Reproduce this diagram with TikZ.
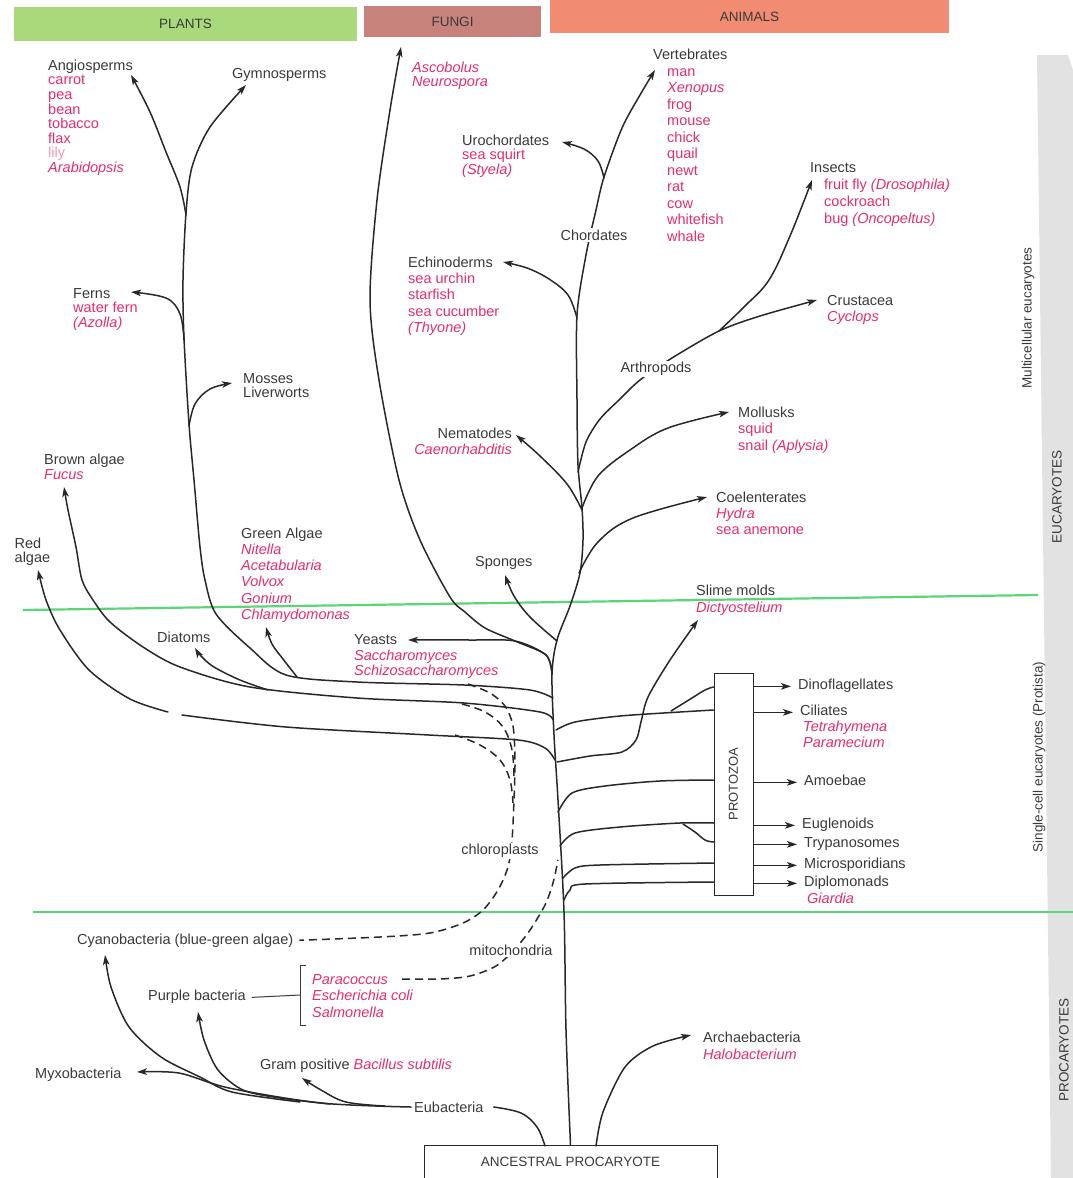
\documentclass[tikz,border=0pt]{standalone}
\usepackage{fontspec}
\setmainfont{Liberation Sans}
\usetikzlibrary{arrows.meta}

\definecolor{inkc}{RGB}{40,40,40}
\definecolor{labc}{RGB}{58,58,58}
\definecolor{pinkc}{RGB}{228,45,112}
\definecolor{pinkl}{RGB}{240,150,182}
\definecolor{plantc}{RGB}{170,217,124}
\definecolor{fungic}{RGB}{200,130,124}
\definecolor{animalc}{RGB}{241,140,114}
\definecolor{sidec}{RGB}{226,226,226}
\definecolor{zonec}{RGB}{92,213,120}

\newcommand\pk[1]{\textcolor{pinkc}{#1}}
\newcommand\pki[1]{\textcolor{pinkc}{\itshape #1}}
\newcommand\fst{\rule{0pt}{10.5pt}}

\tikzset{
  ink/.style={draw=inkc, line width=1.5pt, line cap=round, line join=round},
  tip/.style={ink, -{Stealth[length=10pt,width=6.5pt,inset=2.5pt]}},
  transfer/.style={draw=inkc, line width=1.5pt, dash pattern=on 8pt off 5pt},
  zone/.style={draw=zonec, line width=2.2pt},
  lab/.style={font=\fontsize{14.5}{16}\selectfont, text=labc, inner sep=0pt, align=left},
  lsk/.style={font=\fontsize{14.5}{#1}\selectfont},
  one/.style={lab, anchor=base west},
  multi/.style={lab, anchor=north west},
  gapl/.style={lab, fill=white, inner sep=1.5pt, anchor=center},
  band/.style={inner sep=0pt, font=\fontsize{13.5}{14}\selectfont, text=labc},
  side/.style={font=\fontsize{13.5}{14}\selectfont, text=labc, rotate=90, inner sep=0pt},
}

\begin{document}
\begin{tikzpicture}[x=1pt,y=-1pt]
\useasboundingbox (0,0) rectangle (1073,1178);
\fill[white] (0,0) rectangle (1073,1178);

% ---------- kingdom bands ----------
\node[band, fill=plantc, minimum width=343, minimum height=34] (plants) at (185.5,24) {PLANTS};
\node[band, fill=fungic, minimum width=177, minimum height=31] (fungi) at (452.5,21.5) {FUNGI};
\node[band, fill=animalc, minimum width=399, minimum height=33] (animals) at (749.5,16.5) {ANIMALS};

% ---------- side scale ----------
\fill[sidec] (1037,55) -- (1068,55) -- (1073,70) -- (1073,1178) -- (1051,1178) -- cycle;
\node[side] (multicell) at (1028,318) {Multicellular eucaryotes};
\node[side] (eucar) at (1057,497) {EUCARYOTES};
\node[side] (single) at (1039,757) {Single-cell eucaryotes (Protista)};
\node[side] (procar) at (1064,1050) {PROCARYOTES};

% ---------- zone boundaries ----------
\draw[zone] (23,610) -- (1038,595);
\draw[zone] (33,912) -- (1073,912);

% ---------- root ----------
\node[draw=inkc, line width=1pt, fill=white, minimum width=293, minimum height=33, inner sep=0pt,
      font=\fontsize{13.5}{14}\selectfont, text=labc] (anc) at (570.5,1162) {ANCESTRAL PROCARYOTE};

% ---------- labels: plants ----------
\node[multi, lsk=14.6] (angio) at (48,59.5) {\fst Angiosperms\\\pk{carrot}\\\pk{pea}\\\pk{bean}\\\pk{tobacco}\\\pk{flax}\\\textcolor{pinkl}{lily}\\\pki{Arabidopsis}};
\node[one] (gymno) at (232,78) {Gymnosperms};
\node[multi, lsk=14.6] (ferns) at (73,287.5) {\fst Ferns\\\pk{water fern}\\\pki{(Azolla)}};
\node[multi, lsk=14.2] (mosses) at (243,372.5) {\fst Mosses\\Liverworts};
\node[multi, lsk=15] (brown) at (44,453.5) {\fst Brown algae\\\pki{Fucus}};
\node[multi, lsk=14.5] (red) at (14.5,537.5) {\fst Red\\algae};
\node[multi, lsk=16.2] (green) at (241,527.5) {\fst Green Algae\\\pki{Nitella}\\\pki{Acetabularia}\\\pki{Volvox}\\\pki{Gonium}\\\pki{Chlamydomonas}};
\node[one] (diatoms) at (157,642) {Diatoms};

% ---------- labels: fungi ----------
\node[multi, lsk=14.5] (ascob) at (412,61.5) {\fst\pki{Ascobolus}\\\pki{Neurospora}};
\node[multi, lsk=15.8] (yeasts) at (354,633.5) {\fst Yeasts\\\pki{Saccharomyces}\\\pki{Schizosaccharomyces}};

% ---------- labels: animals ----------
\node[one] (vert) at (653,59) {Vertebrates};
\node[multi, lsk=16.5] (vertsp) at (667,65.5) {\fst\pk{man}\\\pki{Xenopus}\\\pk{frog}\\\pk{mouse}\\\pk{chick}\\\pk{quail}\\\pk{newt}\\\pk{rat}\\\pk{cow}\\\pk{whitefish}\\\pk{whale}};
\node[multi, lsk=14.5] (uro) at (462,134.5) {\fst Urochordates\\\pk{sea squirt}\\\pki{(Styela)}};
\node[one] (insects) at (810,172) {Insects};
\node[multi, lsk=17] (insectsp) at (824,178.5) {\fst\pk{fruit fly \textit{(Drosophila)}}\\\pk{cockroach}\\\pk{bug \textit{(Oncopeltus)}}};
\node[multi, lsk=16.3] (echi) at (408,256.5) {\fst Echinoderms\\\pk{sea urchin}\\\pk{starfish}\\\pk{sea cucumber}\\\pki{(Thyone)}};
\node[multi, lsk=16.5] (crus) at (827,294.5) {\fst Crustacea\\\pki{Cyclops}};
\node[multi, lsk=16.5] (moll) at (738,406.5) {\fst Mollusks\\\pk{squid}\\\pk{snail \textit{(Aplysia)}}};
\node[lab, anchor=north east, align=right, lsk=16.5] (nema) at (512,427.5) {\fst Nematodes\\\pki{Caenorhabditis}};
\node[multi, lsk=16] (coel) at (716,491.5) {\fst Coelenterates\\\pki{Hydra}\\\pk{sea anemone}};
\node[one] (sponges) at (475,566) {Sponges};

% ---------- labels: protista ----------
\node[multi, lsk=17.5] (slime) at (696,584.5) {\fst Slime molds\\\pki{Dictyostelium}};
\node[one] (dino) at (798,689) {Dinoflagellates};
\node[one] (cili) at (800,715) {Ciliates};
\node[multi, lsk=16] (cilisp) at (803,720.5) {\fst\pki{Tetrahymena}\\\pki{Paramecium}};
\node[one] (amoeb) at (804,785) {Amoebae};
\node[one] (eugl) at (802,828) {Euglenoids};
\node[one] (tryp) at (804,847) {Trypanosomes};
\node[one] (micro) at (804,868) {Microsporidians};
\node[one] (diplo) at (804,886) {Diplomonads};
\node[one] (giardia) at (807,903) {\pki{Giardia}};

% ---------- labels: procaryotes ----------
\node[one] (cyano) at (77,944) {Cyanobacteria (blue-green algae)};
\node[one] (purple) at (148,1000) {Purple bacteria};
\node[multi, lsk=16.5] (para) at (312,973.5) {\fst\pki{Paracoccus}\\\pki{Escherichia coli}\\\pki{Salmonella}};
\node[one] (gram) at (260,1069) {Gram positive \pki{Bacillus subtilis}};
\node[one] (myxo) at (35,1078) {Myxobacteria};
\node[one] (eubac) at (414,1112) {Eubacteria};
\node[multi, lsk=17] (arch) at (703,1031.5) {\fst Archaebacteria\\\pki{Halobacterium}};

% ---------- main trunk up to the vertebrates ----------
\draw[tip] plot[smooth, tension=.5] coordinates {(anc.north) (566,1030) (564,912) (558,800) (554,735) (552,674) (557,640) (570,606) (580,573) (583,540) (582,508) (578,465) (577,400) (577,315) (586,255) (596,210) (604,177) (622,128) (640,95) (655,70)};

% ---------- animal branches ----------
\draw[tip] plot[smooth, tension=.6] coordinates {(604,178) (598,161) (584,149) (562,142)};
\draw[tip] plot[smooth, tension=.6] coordinates {(577,318) (568,295) (549,279) (527,268) (503,262)};
\draw[tip] plot[smooth, tension=.5] coordinates {(578,472) (586,442) (600,419) (620,399) (640,380) (672,358) (719,331) (760,316) (817,300)};
\draw[tip] plot[smooth, tension=.6] coordinates {(719,331) (745,306) (769,280) (790,236) (812,180)};
\draw[tip] plot[smooth, tension=.6] coordinates {(582,508) (598,476) (630,450) (668,428) (729,412)};
\draw[tip] plot[smooth, tension=.6] coordinates {(582,510) (567,484) (540,456) (516,435)};
\draw[tip] plot[smooth, tension=.6] coordinates {(579,573) (598,542) (633,518) (707,497)};
\draw[tip] plot[smooth, tension=.6] coordinates {(557,641) (530,617) (514,596) (505,575)};

% ---------- fungi ----------
\draw[tip] plot[smooth, tension=.5] coordinates {(552,674) (546,655) (515,641) (485,628) (465,612) (450,597) (420,540) (399,480) (379,380) (370,300) (377,200) (390,110) (401,47)};
\draw[tip] plot[smooth, tension=.5] coordinates {(552,674) (546,655) (515,641) (470,640) (408,640)};

% ---------- plants ----------
\draw[tip] plot[smooth, tension=.5] coordinates {(553,698) (530,690) (464,685) (357,682) (286,675) (250,648) (216,614) (205,580) (200,547) (194,480) (189,424) (184,338) (183,280) (186,213) (192,167) (210,127) (246,85)};
\draw[tip] plot[smooth, tension=.6] coordinates {(186,215) (180,187) (166,152) (150,112) (131,75)};
\draw[tip] plot[smooth, tension=.6] coordinates {(184,340) (180,314) (166,298) (131,292)};
\draw[tip] plot[smooth, tension=.6] coordinates {(189,426) (195,404) (210,389) (232,383)};
\draw[tip] plot[smooth, tension=.6] coordinates {(297,677) (283,659) (272,644) (266,627)};
\draw[tip] plot[smooth, tension=.5] coordinates {(553,720) (540,712) (464,703) (357,698) (250,687) (180,667) (143,647) (110,622) (93,600) (82,580) (76,547) (68,510) (64,487)};
\draw[tip] plot[smooth, tension=.6] coordinates {(268,690) (240,680) (214,667) (201,656) (195,648)};
\draw[ink] plot[smooth, tension=.5] coordinates {(555,760) (545,748) (518,740) (429,735) (286,727) (182,715)};
\draw[tip] plot[smooth, tension=.5] coordinates {(168,712) (130,699) (89,670) (60,630) (46,600) (38,570)};

% ---------- protozoa ----------
\node[draw=inkc, line width=1pt, fill=white, minimum width=39, minimum height=222, inner sep=0pt] (pz) at (733.5,784) {};
\node[side, font=\fontsize{13}{14}\selectfont] (pzt) at (pz.center) {PROTOZOA};
\draw[ink] plot[smooth, tension=.5] coordinates {(556,730) (575,722) (620,716) (680,712) (pz.west |- 0,710)};
\draw[ink] plot[smooth, tension=.6] coordinates {(671,711) (692,698) (705,690) (pz.west |- 0,687)};
\draw[tip] plot[smooth, tension=.5] coordinates {(557,762) (590,756) (622,752) (636,740) (641,722) (648,697) (670,660) (698,620)};
\draw[ink] plot[smooth, tension=.5] coordinates {(558,812) (572,793) (605,786) (660,781) (pz.west |- 0,780)};
\draw[ink] plot[smooth, tension=.5] coordinates {(560,846) (575,833) (620,827) (680,823) (pz.west |- 0,823)};
\draw[ink] plot[smooth, tension=.6] coordinates {(683,824) (695,832) (705,840) (pz.west |- 0,842)};
\draw[ink] plot[smooth, tension=.5] coordinates {(563,878) (575,868) (600,865) (pz.west |- 0,863)};
\draw[ink] plot[smooth, tension=.5] coordinates {(564,900) (570,890) (585,884) (pz.west |- 0,882)};
\foreach \n in {dino,cili,amoeb,eugl,tryp,micro,diplo}
  \draw[tip] (pz.east |- \n.mid west) -- ([xshift=-7pt]\n.mid west);

% ---------- endosymbiosis (dashed) ----------
\draw[transfer] plot[smooth, tension=.5] coordinates {(468,684) (490,693) (505,706) (513,726) (515,760) (514,800) (512,840) (508,867) (498,890) (483,910) (463,923) (430,933) (380,937) ([xshift=6pt]cyano.east)};
\draw[transfer] plot[smooth, tension=.6] coordinates {(462,704) (485,712) (503,727) (512,750) (514,778)};
\draw[transfer] plot[smooth, tension=.6] coordinates {(455,735) (480,745) (500,760) (510,780) (513,803)};
\coordinate (mitoS) at (402,979);
\draw[transfer] plot[smooth, tension=.5] coordinates {(mitoS) (440,979) (470,976) (496,966) (515,949) (530,930) (545,905) (553,883) (558,860)};

% ---------- procaryote branches ----------
\draw[ink] plot[smooth, tension=.6] coordinates {(545,1146) (537,1127) (521,1113) ([xshift=10pt]eubac.east |- 0,1107)};
\draw[tip] plot[smooth, tension=.5] coordinates {([xshift=-3pt]eubac.west |- 0,1107) (321,1103) (229,1088) (179,1073) (137,1072)};
\draw[tip] plot[smooth, tension=.5] coordinates {(300,1102) (232,1092) (200,1077) (161,1057) (129,1027) (111,987) (105,955)};
\draw[tip] plot[smooth, tension=.5] coordinates {(330,1104) (280,1098) (243,1090) (218,1070) (204,1040) (198,1012)};
\draw[tip] plot[smooth, tension=.6] coordinates {(385,1106) (346,1102) (321,1090) (302,1078)};
\draw[tip] plot[smooth, tension=.5] coordinates {(596,1146) (603,1112) (625,1067) (653,1046) (691,1035)};

% purple bacteria bracket
\draw[draw=labc, line width=1pt] ([xshift=6pt]purple.mid east) -- (300,995);
\draw[draw=labc, line width=1pt] (306,965) -- (300,965) -- (300,1025) -- (306,1025);

% ---------- labels that interrupt lines ----------
\node[gapl] (chord) at (594,235) {Chordates};
\node[gapl] (arth) at (656,369) {Arthropods};
\node[gapl] (chloro) at (500,851) {chloroplasts};
\node[gapl] (mito) at (511,950) {mitochondria};
\end{tikzpicture}
\end{document}
